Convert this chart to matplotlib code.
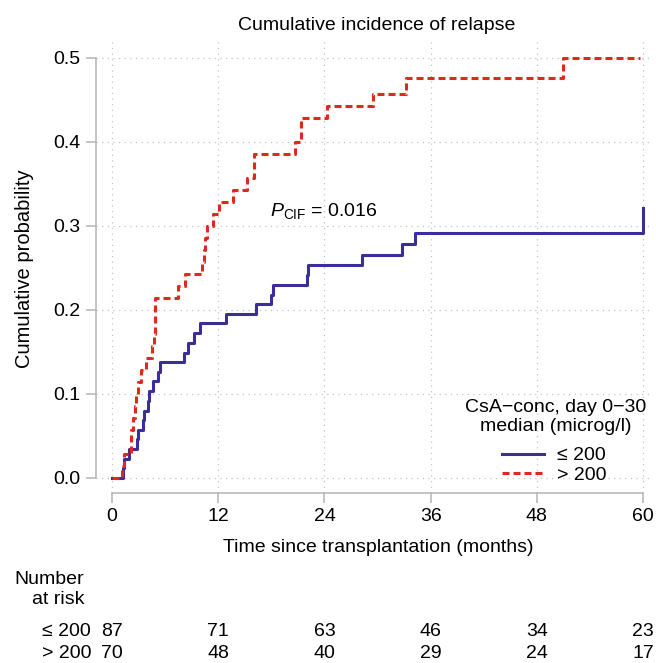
import matplotlib
matplotlib.use('Agg')
import matplotlib.pyplot as plt
from matplotlib.lines import Line2D
import matplotlib.transforms as mtransforms

plt.rcParams['font.family'] = ['Liberation Sans', 'DejaVu Sans']
plt.rcParams['mathtext.fontset'] = 'custom'
plt.rcParams['mathtext.rm'] = 'Liberation Sans'
plt.rcParams['mathtext.it'] = 'Liberation Sans:italic'
plt.rcParams['mathtext.bf'] = 'Liberation Sans:bold'

# ---------------- data ----------------
blue_t = [0, 1.28, 1.33, 1.96, 2.79, 2.9, 3.47, 3.6, 4.03, 4.22, 4.67, 5.23, 5.42,
          8.17, 8.55, 9.3, 9.94, 12.88, 16.27, 17.93, 18.15, 22.0, 22.1, 28.2,
          32.8, 34.2, 60.0]
blue_p = [0, 0.0115, 0.023, 0.0345, 0.046, 0.0575, 0.069, 0.080, 0.092, 0.1035,
          0.115, 0.1265, 0.138, 0.149, 0.161, 0.172, 0.184, 0.1955, 0.207, 0.218,
          0.230, 0.242, 0.2535, 0.266, 0.279, 0.292, 0.321]

red_t = [0, 1.1, 1.3, 2.1, 2.2, 2.4, 2.6, 2.7, 2.9, 3.3, 3.8, 4.5, 4.7, 4.8, 4.85,
         4.9, 7.5, 8.3, 10.2, 10.4, 10.55, 10.7, 11.4, 12.1, 13.7, 15.2, 16.0,
         20.7, 21.3, 24.3, 29.5, 33.2, 50.9, 59.7]
red_p = [0, 0.0143, 0.0286, 0.0429, 0.0571, 0.0714, 0.0857, 0.1, 0.1143, 0.1286,
         0.1429, 0.1571, 0.1714, 0.1857, 0.2, 0.2143, 0.2286, 0.2429, 0.2571,
         0.2714, 0.2857, 0.3, 0.3143, 0.3286, 0.3429, 0.3571, 0.3857, 0.4,
         0.4286, 0.4429, 0.4571, 0.4757, 0.4996, 0.4996]

x_ticks = [0, 12, 24, 36, 48, 60]
y_ticks = [0.0, 0.1, 0.2, 0.3, 0.4, 0.5]
y_ticklabels = ['0.0', '0.1', '0.2', '0.3', '0.4', '0.5']

risk_times = [0, 12, 24, 36, 48, 60]
risk_low = [87, 71, 63, 46, 34, 23]
risk_high = [70, 48, 40, 29, 24, 17]
group_labels = ['≤ 200', '> 200']
legend_title = 'CsA\u2212conc, day 0\u221230\nmedian (microg/l)'

BLUE = '#3a2f98'
RED = '#e2271d'
GRID = '#c4c4c4'
SPINE = '#b4b4b4'
FS = 14

W, H = 656, 663
fig = plt.figure(figsize=(W / 100, H / 100), dpi=100)
ax = fig.add_axes([96 / W, (H - 493) / H, 556 / W, 453 / H])

dash = (0, (2.3, 1.3))
ax.step(blue_t, blue_p, where='post', color=BLUE, lw=2.2, zorder=3)
ax.step(red_t, red_p, where='post', color=RED, lw=2.2, linestyle=dash,
        dash_capstyle='butt', zorder=4)

ax.set_xlim(-1.81, 61.0)
ax.set_ylim(-0.0179, 0.5214)
ax.set_xticks(x_ticks)
ax.set_yticks(y_ticks)
ax.set_yticklabels(y_ticklabels)
ax.grid(True, linestyle=(0, (1, 3.5)), color=GRID, lw=0.9)
ax.set_axisbelow(True)

for s in ['top', 'right']:
    ax.spines[s].set_visible(False)
ax.spines['left'].set_bounds(0, 0.5)
ax.spines['bottom'].set_bounds(0, 60)
for s in ['left', 'bottom']:
    ax.spines[s].set_color(SPINE)
    ax.spines[s].set_linewidth(1.1)
ax.tick_params(axis='both', length=7, width=1.1, color=SPINE, labelsize=FS,
               labelcolor='black', pad=4)

# texts
fig.text(377 / W, 1 - 25 / H, 'Cumulative incidence of relapse', ha='center',
         va='center', fontsize=FS)
fig.text(378 / W, 1 - 548 / H, 'Time since transplantation (months)',
         ha='center', va='center', fontsize=FS)
fig.text(25 / W, 1 - 269 / H, 'Cumulative probability', rotation=90,
         ha='center', va='center', fontsize=FS + 0.5)

ax.text(17.9, 0.318, r'$P_{\rm CIF}$ = 0.016', ha='left', va='center', fontsize=FS)

# legend (title drawn as text, entries via legend)
fig.text(556 / W, 1 - 417 / H, legend_title, ha='center', va='center',
         multialignment='center', fontsize=FS, linespacing=1.2)
handles = [Line2D([], [], color=BLUE, lw=2.2),
           Line2D([], [], color=RED, lw=2.2, linestyle=dash, dash_capstyle='butt')]
leg = ax.legend(handles, group_labels, loc='center',
                bbox_to_anchor=(0.8246, 0.061), frameon=False,
                fontsize=FS, handlelength=2.16,
                handletextpad=0.67, labelspacing=0.1, borderpad=0.1)

# risk table
fig.text(84 / W, 1 - 580 / H, 'Number', ha='right', va='center', fontsize=FS)
fig.text(84 / W, 1 - 600 / H, 'at risk', ha='right', va='center', fontsize=FS)
trans = mtransforms.blended_transform_factory(ax.transData, fig.transFigure)
for yy, lab, vals in [(632, group_labels[0], risk_low), (653, group_labels[1], risk_high)]:
    fig.text(91 / W, 1 - yy / H, lab, ha='right', va='center', fontsize=FS)
    for t, n in zip(risk_times, vals):
        fig.text(t, 1 - yy / H, str(n), transform=trans, ha='center',
                 va='center', fontsize=FS)

fig.savefig('out.png', dpi=100)
